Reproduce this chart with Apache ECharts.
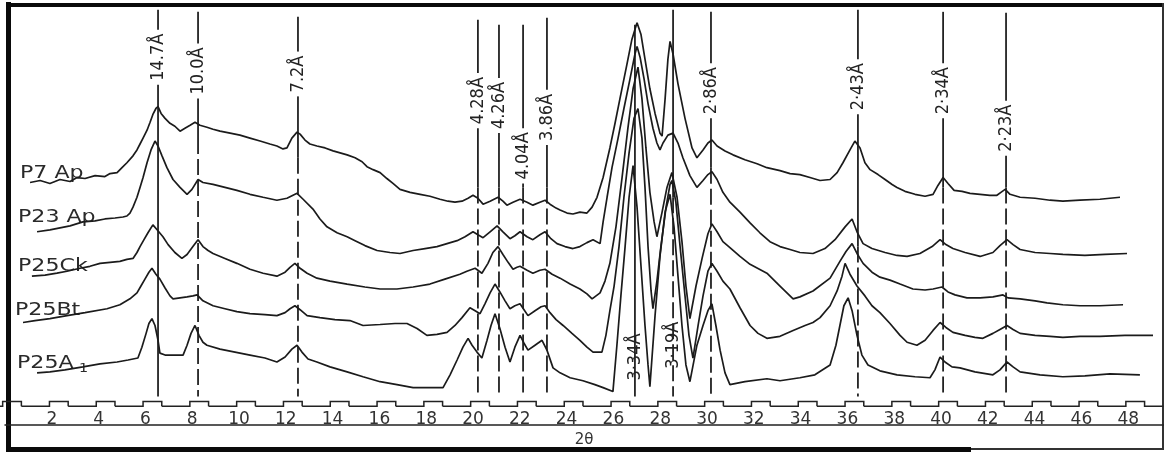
<!DOCTYPE html>
<html>
<head>
<meta charset="utf-8">
<script src="https://cdn.jsdelivr.net/npm/echarts@6/dist/echarts.min.js"></script>
<style>
  html, body { margin: 0; padding: 0; background: #fff; }
  #chart { width: 1166px; height: 453px; }
</style>
</head>
<body>
<div id="chart"></div>
<script>
// X-ray diffractograms of the clay fraction, 2θ (degrees) vs intensity (arbitrary units)

const traceNames = ['P7 Ap', 'P23 Ap', 'P25Ck', 'P25Bt', 'P25A1'];

const p7Ap = [
  [1.07,268],[1.50,270],[1.92,267],[2.35,271],[2.78,269],[3.08,273],[3.42,272],[3.85,275],[4.27,274],[4.49,277],
  [4.79,278],[5.00,283],[5.21,288],[5.47,295],[5.64,301],[5.77,307],[5.90,313],[6.07,321],[6.20,329],[6.32,337],
  [6.45,343],[6.54,345],[6.67,338],[6.84,333],[7.05,328],[7.26,325],[7.48,320],[7.69,323],[7.91,326],[8.12,329],
  [8.33,326],[8.63,324],[8.89,322],[9.19,320],[9.62,318],[10.04,316],[10.47,313],[10.90,310],[11.32,307],[11.62,305],
  [11.88,302],[12.05,303],[12.26,313],[12.48,319],[12.61,317],[12.82,311],[13.03,307],[13.33,305],[13.68,303],[14.02,300],
  [14.32,298],[14.62,296],[14.96,293],[15.26,289],[15.47,284],[15.73,281],[16.03,278],[16.32,272],[16.58,267],[16.88,261],
  [17.31,258],[17.74,256],[18.16,254],[18.59,251],[18.93,249],[19.23,248],[19.53,249],[19.79,252],[20.00,255],[20.21,252],
  [20.43,246],[20.73,249],[21.07,253],[21.28,249],[21.45,245],[21.71,248],[22.01,251],[22.31,248],[22.56,245],[22.86,248],
  [23.08,250],[23.29,246],[23.55,242],[23.72,240],[24.02,237],[24.27,236],[24.57,238],[24.87,237],[25.09,243],[25.30,253],
  [25.56,273],[25.85,303],[26.07,328],[26.28,353],[26.58,388],[26.79,413],[27.01,430],[27.18,418],[27.35,393],[27.56,363],
  [27.78,338],[27.99,318],[28.08,315],[28.21,353],[28.33,393],[28.42,411],[28.55,398],[28.76,368],[29.06,333],[29.36,303],
  [29.57,293],[29.83,301],[30.04,308],[30.21,311],[30.43,305],[30.77,300],[31.11,296],[31.62,291],[32.14,287],[32.56,283],
  [33.12,280],[33.55,277],[33.97,276],[34.40,273],[34.83,270],[35.26,271],[35.56,278],[35.81,288],[36.11,301],[36.32,310],
  [36.54,303],[36.75,288],[36.97,281],[37.31,276],[37.61,271],[37.91,266],[38.12,263],[38.46,259],[38.89,256],[39.32,254],
  [39.66,256],[39.87,265],[40.09,273],[40.30,267],[40.56,260],[40.90,259],[41.24,257],[41.67,256],[42.09,255],[42.39,255],
  [42.56,258],[42.74,261],[42.95,256],[43.38,253],[44.02,252],[44.66,250],[45.21,249],[45.94,250],[46.79,251],[47.65,253]
];

const p23Ap = [
  [1.37,218],[1.92,220],[2.35,222],[2.78,224],[3.33,228],[3.85,229],[4.27,231],[4.70,232],[5.04,233],[5.21,234],
  [5.34,237],[5.47,243],[5.64,253],[5.77,263],[5.90,273],[6.07,288],[6.24,301],[6.41,310],[6.54,305],[6.71,295],
  [6.92,283],[7.18,271],[7.48,263],[7.78,256],[7.99,261],[8.25,271],[8.46,268],[8.89,266],[9.40,263],[9.91,260],
  [10.47,256],[11.03,253],[11.62,250],[12.05,252],[12.48,257],[12.74,251],[13.16,241],[13.46,231],[13.76,223],[14.19,217],
  [14.62,213],[14.96,209],[15.38,204],[15.90,199],[16.45,197],[16.88,196],[17.44,199],[17.95,201],[18.46,203],[18.89,206],
  [19.32,209],[19.66,213],[20.00,218],[20.21,215],[20.43,212],[20.73,218],[21.03,224],[21.28,218],[21.58,211],[21.79,214],
  [22.01,218],[22.31,213],[22.56,210],[22.86,215],[23.08,218],[23.33,211],[23.59,206],[23.93,203],[24.27,201],[24.57,203],
  [24.87,207],[25.13,210],[25.43,206],[25.56,228],[25.73,253],[25.94,283],[26.20,313],[26.45,343],[26.71,373],[26.92,398],
  [27.01,406],[27.14,395],[27.31,373],[27.48,348],[27.69,323],[27.86,308],[27.99,301],[28.12,308],[28.33,316],[28.55,318],
  [28.76,308],[28.97,293],[29.27,275],[29.57,263],[29.83,270],[30.04,276],[30.21,279],[30.43,271],[30.68,258],[30.98,248],
  [31.41,238],[31.84,227],[32.26,217],[32.69,208],[33.12,203],[33.55,200],[33.97,197],[34.53,196],[35.04,201],[35.47,210],
  [35.90,223],[36.20,231],[36.41,218],[36.67,206],[37.05,201],[37.61,197],[38.12,194],[38.55,193],[39.10,196],[39.62,203],
  [39.96,210],[40.21,205],[40.51,201],[41.03,197],[41.67,193],[42.22,197],[42.52,204],[42.82,210],[43.08,205],[43.38,200],
  [44.02,197],[44.66,196],[45.21,195],[46.15,194],[47.01,195],[47.95,196]
];

const p25Ck = [
  [1.15,173],[1.71,174],[2.22,176],[2.65,178],[3.21,181],[3.63,183],[4.06,186],[4.49,187],[4.91,188],[5.21,190],
  [5.47,191],[5.64,197],[5.77,203],[5.94,210],[6.11,217],[6.32,225],[6.50,220],[6.75,213],[6.97,205],[7.26,197],
  [7.56,191],[7.78,195],[8.03,203],[8.25,210],[8.46,203],[8.68,199],[8.89,196],[9.40,191],[9.91,186],[10.47,180],
  [11.03,176],[11.62,173],[11.97,177],[12.18,182],[12.39,186],[12.61,181],[12.91,176],[13.33,171],[13.89,168],[14.62,165],
  [15.38,162],[16.03,160],[16.75,160],[17.44,162],[18.16,165],[18.80,170],[19.44,175],[19.74,178],[20.09,181],[20.21,179],
  [20.38,176],[20.64,186],[20.85,197],[21.07,203],[21.28,195],[21.50,187],[21.71,180],[21.88,182],[22.01,183],[22.31,179],
  [22.56,176],[22.86,179],[23.08,180],[23.38,175],[23.72,171],[24.15,165],[24.57,160],[24.87,155],[25.09,150],[25.26,153],
  [25.43,156],[25.64,168],[25.85,186],[26.11,223],[26.37,273],[26.62,323],[26.84,363],[27.05,385],[27.22,353],[27.39,303],
  [27.56,258],[27.74,228],[27.86,213],[28.08,238],[28.29,263],[28.50,278],[28.72,253],[28.93,208],[29.10,163],[29.27,130],
  [29.53,163],[29.79,191],[30.04,216],[30.21,226],[30.43,218],[30.68,208],[30.98,202],[31.41,193],[31.84,185],[32.56,176],
  [33.12,163],[33.68,150],[33.97,152],[34.53,158],[35.26,171],[35.68,188],[35.94,198],[36.20,206],[36.41,196],[36.67,186],
  [37.05,177],[37.39,172],[37.82,169],[38.25,165],[38.80,160],[39.32,159],[39.66,160],[40.04,162],[40.30,157],[40.60,154],
  [41.11,151],[41.67,151],[42.22,152],[42.65,154],[42.86,151],[43.38,150],[44.02,148],[44.53,146],[45.21,144],[45.94,143],
  [46.79,143],[47.78,144]
];

const p25Bt = [
  [0.77,126],[1.28,128],[1.92,130],[2.65,133],[3.42,136],[4.36,140],[4.91,144],[5.34,150],[5.64,156],[5.81,163],
  [5.98,170],[6.15,177],[6.28,181],[6.45,175],[6.62,170],[6.84,161],[7.05,153],[7.18,150],[7.48,151],[7.78,152],
  [8.03,153],[8.21,154],[8.46,148],[8.89,143],[9.40,140],[9.91,137],[10.47,135],[11.11,134],[11.62,133],[11.97,136],
  [12.18,140],[12.39,143],[12.61,139],[12.91,133],[13.46,131],[14.10,129],[14.74,128],[15.30,123],[16.03,124],[16.67,125],
  [17.18,125],[17.61,120],[18.03,113],[18.46,114],[18.89,116],[19.23,123],[19.53,131],[19.87,141],[20.09,138],[20.30,135],
  [20.51,145],[20.73,156],[20.94,165],[21.15,157],[21.37,148],[21.58,140],[21.79,143],[22.01,145],[22.18,139],[22.35,133],
  [22.65,138],[22.91,142],[23.08,143],[23.29,136],[23.55,129],[23.85,123],[24.23,115],[24.57,108],[24.87,101],[25.13,96],
  [25.51,96],[25.68,113],[25.85,138],[26.03,163],[26.24,203],[26.45,253],[26.67,298],[26.88,333],[27.05,343],[27.22,313],
  [27.35,263],[27.48,203],[27.61,158],[27.69,140],[27.86,168],[28.03,203],[28.25,243],[28.42,266],[28.50,270],[28.67,248],
  [28.85,203],[29.06,153],[29.23,113],[29.40,90],[29.62,123],[29.83,153],[30.04,178],[30.21,186],[30.43,178],[30.68,168],
  [30.98,160],[31.41,141],[31.84,123],[32.18,115],[32.56,110],[33.12,112],[33.68,118],[34.19,123],[34.53,126],[34.83,131],
  [35.26,143],[35.56,158],[35.77,173],[35.90,186],[36.11,175],[36.41,163],[36.75,153],[37.05,143],[37.39,136],[37.82,125],
  [38.25,113],[38.55,106],[38.97,103],[39.32,108],[39.66,118],[39.96,126],[40.21,121],[40.51,116],[41.03,113],[41.45,111],
  [41.79,110],[42.22,115],[42.52,119],[42.82,123],[43.08,119],[43.38,115],[44.02,113],[44.66,112],[45.21,111],[45.94,112],
  [46.79,112],[47.86,113],[49.06,113]
];

const p25A1 = [
  [1.37,75],[1.92,76],[2.56,78],[3.33,81],[4.06,84],[4.79,86],[5.26,88],[5.68,90],[5.85,101],[6.03,115],
  [6.15,125],[6.28,130],[6.41,123],[6.54,108],[6.62,95],[6.84,93],[7.18,93],[7.61,93],[7.78,103],[7.95,115],
  [8.12,123],[8.29,113],[8.46,106],[8.63,103],[9.19,99],[9.83,96],[10.47,93],[11.11,90],[11.62,86],[11.97,91],
  [12.26,99],[12.48,103],[12.69,96],[12.95,89],[13.33,86],[13.89,81],[14.62,76],[15.30,71],[16.03,66],[16.75,63],
  [17.44,60],[18.08,60],[18.72,60],[19.02,73],[19.32,88],[19.57,101],[19.79,110],[19.96,103],[20.17,96],[20.38,90],
  [20.60,108],[20.77,123],[20.94,135],[21.15,120],[21.37,101],[21.58,86],[21.79,101],[22.01,113],[22.18,105],[22.35,98],
  [22.65,103],[22.95,108],[23.16,98],[23.42,80],[23.72,75],[24.15,70],[24.70,67],[25.21,63],[25.56,60],[25.98,56],
  [26.15,103],[26.32,153],[26.50,203],[26.67,253],[26.84,285],[27.01,243],[27.18,183],[27.35,123],[27.48,83],[27.56,61],
  [27.78,133],[27.99,193],[28.21,238],[28.42,256],[28.59,223],[28.76,173],[28.93,123],[29.10,83],[29.27,66],[29.57,103],
  [29.83,123],[30.04,138],[30.21,145],[30.38,123],[30.56,98],[30.77,75],[30.98,63],[31.62,66],[32.56,69],[33.12,67],
  [33.97,70],[34.61,73],[35.26,83],[35.51,103],[35.68,123],[35.85,143],[36.03,151],[36.20,138],[36.41,113],[36.62,93],
  [36.88,83],[37.39,77],[38.12,73],[38.89,71],[39.53,70],[39.74,78],[39.96,91],[40.17,86],[40.47,81],[40.81,80],
  [41.45,76],[42.22,73],[42.52,78],[42.82,86],[43.08,81],[43.38,76],[44.23,73],[45.21,71],[46.15,72],[47.22,74],
  [48.50,73]
];

// d-spacing reference lines: 2θ position and label
const dPeaks  = [6.54, 8.25, 12.52, 20.21, 21.11, 22.14, 23.16, 26.92, 28.55, 30.17, 36.45, 40.09, 42.78];
const dLabels = ['14.7Å', '10.0Å', '7.2Å', '4.28Å', '4.26Å', '4.04Å', '3.86Å', '3·34Å', '3·19Å', '2·86Å', '2·43Å', '2·34Å', '2·23Å'];

// x-axis tick labels and chart-paper degree markers
const tickLabels = [2,4,6,8,10,12,14,16,18,20,22,24,26,28,30,32,34,36,38,40,42,44,46,48];
const paperMarks = [0,2,4,6,8,10,12,14,16,18,20,22,24,26,28,30,32,34,36,38,40,42,44,46,48];

// ---- layout (intensity units of the plot) ----
const lineTop    = [443, 441, 436, 433, 428, 428, 435, 428, 443, 441, 443, 441, 440];
const lineBottom = 51;
const labelAt    = [395, 381, 378, 351, 346, 295, 334, 91, 103, 361, 365, 361, 323];
const dashBelow  = [0, 313, 293, 263, 263, 263, 263, 0, 253, 283, 203, 263, 263];
const labelMask  = [1,1,1,1,1,1,1,0,0,1,1,1,1];

const INK = '#1b1b1b';
const chart = echarts.init(document.getElementById('chart'), null, { renderer: 'canvas' });

const traceSeries = [p7Ap, p23Ap, p25Ck, p25Bt, p25A1].map((d, i) => ({
  name: traceNames[i],
  type: 'line',
  data: d,
  showSymbol: false,
  symbol: 'none',
  z: 3,
  lineStyle: { color: INK, width: 1.7 },
  emphasis: { disabled: true }
}));

const option = {
  animation: false,
  backgroundColor: '#ffffff',
  grid: { left: 5, right: 2.7, top: 0, bottom: 22 },
  xAxis: {
    type: 'value', min: 0, max: 49.5, interval: 2,
    axisLine: { show: true, onZero: false, lineStyle: { color: '#222', width: 1.5 } },
    axisTick: { show: false },
    splitLine: { show: false },
    axisLabel: {
      inside: true, margin: -3, color: '#333', fontSize: 17, fontFamily: 'DejaVu Sans',
      showMaxLabel: false, showMinLabel: false,
      formatter: v => tickLabels.indexOf(v) >= 0 ? String(v) : ''
    },
    name: '2θ', nameLocation: 'middle', nameGap: 3,
    nameTextStyle: { color: '#333', fontSize: 15, fontFamily: 'DejaVu Sans', verticalAlign: 'top' }
  },
  yAxis: { type: 'value', min: 22, max: 453, show: false },
  series: [
    {
      name: 'd-spacing',
      type: 'custom',
      z: 1,
      silent: true,
      clip: false,
      data: dPeaks.map((t, i) => [t, i]),
      renderItem: function (params, api) {
        const i = params.dataIndex;
        const x = api.coord([api.value(0), 0])[0];
        const yTop = api.coord([0, lineTop[i]])[1];
        const yBot = api.coord([0, lineBottom])[1];
        const yLab = api.coord([0, labelAt[i]])[1];
        const yDash = dashBelow[i] ? api.coord([0, dashBelow[i]])[1] : yBot;
        const children = [
          { type: 'line', shape: { x1: x, y1: yTop, x2: x, y2: yDash },
            style: { stroke: '#222', lineWidth: 1.8 } }
        ];
        if (yDash < yBot) {
          children.push({ type: 'line', shape: { x1: x, y1: yDash, x2: x, y2: yBot },
            style: { stroke: '#222', lineWidth: 1.8, lineDash: [16, 5] } });
        }
        children.push({
          type: 'text', x: x, y: yLab, rotation: Math.PI / 2,
          style: {
            text: dLabels[i], fill: '#222', font: '18px "DejaVu Sans Condensed"',
            align: 'center', verticalAlign: 'middle',
            backgroundColor: labelMask[i] ? '#ffffff' : null, padding: [0, 4]
          }
        });
        return { type: 'group', children: children };
      }
    },
    {
      name: 'degree marks',
      type: 'custom',
      z: 2,
      silent: true,
      clip: false,
      data: paperMarks.map(k => [k]),
      renderItem: function (params, api) {
        const k = api.value(0);
        const lo = 41, hi = 46;
        const end = k === 48 ? 49.5 : k + 0.7;
        const pts = [[k - 1.3, lo], [k - 0.1, lo], [k - 0.1, hi], [k + 0.7, hi], [k + 0.7, lo], [end, lo]]
          .map(p => api.coord(p));
        return { type: 'polyline', shape: { points: pts }, style: { stroke: '#222', lineWidth: 1.5, fill: null } };
      }
    }
  ].concat(traceSeries),
  graphic: [
    // frame
    { type: 'rect', shape: { x: 6, y: 2, width: 5, height: 450 }, style: { fill: '#0a0a0a' } },
    { type: 'rect', shape: { x: 6, y: 3, width: 1158, height: 4 }, style: { fill: '#0a0a0a' } },
    { type: 'rect', shape: { x: 6, y: 447, width: 965, height: 5 }, style: { fill: '#0a0a0a' } },
    { type: 'rect', shape: { x: 971, y: 448, width: 192, height: 2 }, style: { fill: '#333' } },
    { type: 'rect', shape: { x: 1162, y: 3, width: 2, height: 447 }, style: { fill: '#333' } },
    // sample names
    { type: 'text', x: 20, y: 174, scaleX: 1.3, style: { text: 'P7 Ap', font: '17px "DejaVu Sans"', fill: '#2a2a2a', align: 'left', verticalAlign: 'middle' } },
    { type: 'text', x: 18, y: 218, scaleX: 1.3, style: { text: 'P23 Ap', font: '17px "DejaVu Sans"', fill: '#2a2a2a', align: 'left', verticalAlign: 'middle' } },
    { type: 'text', x: 18, y: 267, scaleX: 1.3, style: { text: 'P25Ck', font: '17px "DejaVu Sans"', fill: '#2a2a2a', align: 'left', verticalAlign: 'middle' } },
    { type: 'text', x: 15, y: 311, scaleX: 1.3, style: { text: 'P25Bt', font: '17px "DejaVu Sans"', fill: '#2a2a2a', align: 'left', verticalAlign: 'middle' } },
    { type: 'text', x: 17, y: 364, scaleX: 1.3, style: { text: 'P25A', font: '17px "DejaVu Sans"', fill: '#2a2a2a', align: 'left', verticalAlign: 'middle' } },
    { type: 'text', x: 79, y: 369, scaleX: 1.1, style: { text: '1', font: '13px "DejaVu Sans"', fill: '#2a2a2a', align: 'left', verticalAlign: 'middle' } }
  ]
};

chart.setOption(option);
</script>
</body>
</html>
